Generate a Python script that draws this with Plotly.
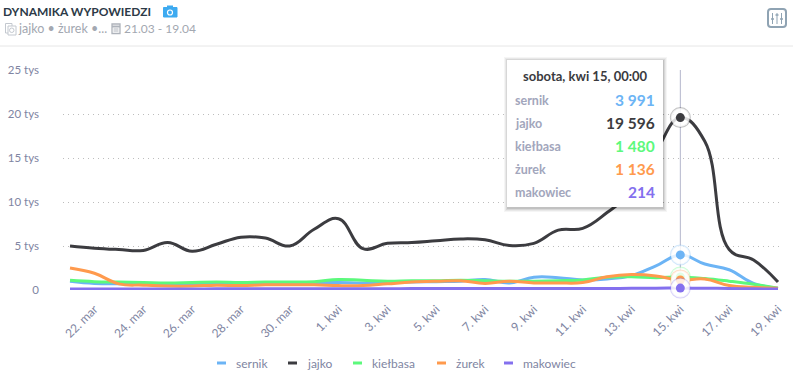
import plotly.graph_objects as go
import pandas as pd

dates = pd.date_range("2023-03-21", "2023-04-19", freq="D")
series_names = ["sernik", "jajko", "kiełbasa", "żurek", "makowiec"]
colors = ["#6cb4f5", "#3c3c40", "#5cf97c", "#ff9a4d", "#8470ee"]

sernik = [1000, 750, 700, 700, 700, 700, 700, 760, 800, 850, 850, 850, 800, 850, 900, 950, 1000, 1200, 800, 1450, 1400, 1150, 1250, 1650, 2750, 3991, 2950, 2300, 750, 200]
jajko = [5000, 4750, 4600, 4500, 5400, 4400, 5200, 6000, 5900, 5000, 6900, 8100, 4700, 5300, 5400, 5600, 5800, 5700, 5050, 5300, 6800, 7000, 8800, 11200, 15700, 19596, 16900, 4600, 3400, 900]
kielbasa = [1100, 950, 900, 850, 800, 850, 900, 850, 900, 900, 950, 1200, 1100, 1000, 1050, 1050, 1100, 1050, 1000, 1000, 1050, 1150, 1450, 1500, 1400, 1480, 1300, 1000, 650, 200]
zurek = [2500, 1900, 700, 550, 450, 450, 550, 500, 600, 600, 600, 500, 500, 700, 900, 1000, 1050, 750, 1000, 800, 800, 850, 1500, 1750, 1600, 1136, 1250, 500, 300, 200]
makowiec = [100, 100, 120, 120, 120, 120, 130, 130, 140, 140, 140, 150, 150, 150, 160, 160, 160, 160, 160, 160, 160, 170, 180, 190, 210, 214, 200, 170, 140, 100]
all_series = [sernik, jajko, kielbasa, zurek, makowiec]

tick_dates = pd.date_range("2023-03-22", "2023-04-19", freq="2D")
tick_labels = ["22. mar", "24. mar", "26. mar", "28. mar", "30. mar", "1. kwi", "3. kwi", "5. kwi", "7. kwi",
               "9. kwi", "11. kwi", "13. kwi", "15. kwi", "17. kwi", "19. kwi"]
y_ticks = [0, 5000, 10000, 15000, 20000, 25000]
y_labels = ["0", "5 tys", "10 tys", "15 tys", "20 tys", "25 tys"]
hover_index = 25
tooltip_title = "sobota, kwi 15, 00:00"

W, H = 793, 381
L, R, T, B = 63, 12, 70, 91
FONT = "Lato, sans-serif"
GREY = "#8085a2"


def px(x):
    return (x - L) / (W - L - R)


def py(y):
    return (H - B - y) / (H - T - B)


fig = go.Figure()
for name, vals, col in zip(series_names, all_series, colors):
    fig.add_trace(go.Scatter(x=dates, y=vals, name=name, mode="lines", showlegend=False,
                             line=dict(color=col, width=3, shape="spline", smoothing=1.2)))

# hover markers at the selected day
for vals, col in zip(all_series, colors):
    fig.add_trace(go.Scatter(x=[dates[hover_index]], y=[vals[hover_index]], mode="markers", showlegend=False,
                             marker=dict(size=19, color="rgba(255,255,255,0.9)", line=dict(color=col, width=2)),
                             opacity=0.3, cliponaxis=False))
    fig.add_trace(go.Scatter(x=[dates[hover_index]], y=[vals[hover_index]], mode="markers", showlegend=False,
                             marker=dict(size=19, color="rgba(255,255,255,0.75)", line=dict(width=0)), cliponaxis=False))
    fig.add_trace(go.Scatter(x=[dates[hover_index]], y=[vals[hover_index]], mode="markers", showlegend=False,
                             marker=dict(size=9, color=col), cliponaxis=False))

shapes = [
    dict(type="line", xref="x", yref="paper", x0=dates[hover_index], x1=dates[hover_index], y0=0, y1=1,
         line=dict(color="#b4b6cc", width=1), layer="below"),
    dict(type="line", xref="paper", yref="paper", x0=px(0), x1=px(W), y0=py(46), y1=py(46),
         line=dict(color="#e6e6e6", width=1)),
]
# tooltip box with a soft shadow
for grow, alpha in [(4, 0.04), (3, 0.05), (2, 0.07), (1, 0.1)]:
    shapes.append(dict(type="rect", xref="paper", yref="paper", x0=px(507 - grow + 1), x1=px(663 + grow),
                       y0=py(207 + grow + 1), y1=py(60 - grow + 1), layer="above", line=dict(width=0),
                       fillcolor=f"rgba(0,0,0,{alpha})"))
shapes.append(dict(type="rect", xref="paper", yref="paper", x0=px(507), x1=px(663), y0=py(207), y1=py(60),
                   layer="above", line=dict(width=0), fillcolor="white"))


def box(x0, y0, x1, y1, color, fill="rgba(0,0,0,0)", w=1):
    shapes.append(dict(type="rect", xref="paper", yref="paper", x0=px(x0), x1=px(x1), y0=py(y1), y1=py(y0),
                       line=dict(color=color, width=w), fillcolor=fill, layer="above"))


def seg(x0, y0, x1, y1, color, w=1):
    shapes.append(dict(type="line", xref="paper", yref="paper", x0=px(x0), x1=px(x1), y0=py(y0), y1=py(y1),
                       line=dict(color=color, width=w), layer="above"))


# camera icon
box(163.5, 7.5, 177, 17, "#3daaf0", "#3daaf0")
box(167, 5.5, 173, 8, "#3daaf0", "#3daaf0", 0)
shapes.append(dict(type="circle", xref="paper", yref="paper", x0=px(167.5), x1=px(172.5), y0=py(15), y1=py(10),
                   fillcolor="#3daaf0", line=dict(color="white", width=1.2), layer="above"))
# query icon
box(5.5, 23.5, 12, 33, "#c3c8cf")
box(8, 26, 16, 35, "#c3c8cf", "white")
shapes.append(dict(type="circle", xref="paper", yref="paper", x0=px(9.5), x1=px(14), y0=py(32.5), y1=py(28),
                   line=dict(color="#c3c8cf", width=1), layer="above"))
# calendar icon
box(112, 24, 120, 33.5, "#aeb3bb", "white", 1.3)
seg(112, 26.5, 120, 26.5, "#aeb3bb", 2)
seg(113.5, 29, 118.5, 29, "#aeb3bb")
seg(113.5, 31, 118.5, 31, "#aeb3bb")
# settings icon
shapes.append(dict(type="path", xref="paper", yref="paper", layer="above", line=dict(color="#8fa3b3", width=2),
                   fillcolor="rgba(0,0,0,0)",
                   path=f"M {px(771)} {py(9)} L {px(783)} {py(9)} Q {px(786)} {py(9)} {px(786)} {py(12)} "
                        f"L {px(786)} {py(24)} Q {px(786)} {py(27)} {px(783)} {py(27)} L {px(771)} {py(27)} "
                        f"Q {px(768)} {py(27)} {px(768)} {py(24)} L {px(768)} {py(12)} Q {px(768)} {py(9)} {px(771)} {py(9)} Z"))
for sx, knob in [(772.5, 19), (777, 15), (781.5, 19)]:
    seg(sx, 13, sx, 24, "#8fa3b3", 1)
    seg(sx - 1.5, knob, sx + 1.5, knob, "#8fa3b3", 1.5)

annotations = []


def text(x, y, s, color, size, anchor="left", weight=None):
    font = dict(family=FONT, color=color, size=size)
    if weight:
        font["weight"] = weight
    annotations.append(dict(x=px(x), y=py(y), xref="paper", yref="paper", text=s, showarrow=False,
                            xanchor=anchor, yanchor="middle", font=font, xshift=0, borderpad=0, borderwidth=0))


text(3, 11, "DYNAMIKA WYPOWIEDZI", "#2c3a47", 12, weight=700)
text(18, 28, "jajko • żurek •...", "#a3a8b1", 12.5)
text(124, 28, "21.03 - 19.04", "#a3a8b1", 12)
text(585, 76, tooltip_title, "#3a3a3e", 13, "center", 700)
for i, (name, vals, col) in enumerate(zip(series_names, all_series, colors)):
    row_y = 100 + i * 23
    text(515, row_y, name, "#a2a6bc", 12.5, weight=700)
    value = f"{vals[hover_index]:,}".replace(",", " ")
    text(655, row_y, value, col, 15.5, "right", 700)

# legend
legend_x = [217, 288, 353, 437, 504]
for lx, name, col in zip(legend_x, series_names, colors):
    seg(lx, 363, lx + 9, 363, col, 3)
    text(lx + 19, 363, name, GREY, 12)

fig.update_layout(
    width=W, height=H, margin=dict(l=L, r=R, t=T, b=B, pad=0, autoexpand=False),
    paper_bgcolor="white", plot_bgcolor="white", showlegend=False,
    font=dict(family=FONT, size=12, color=GREY),
    xaxis=dict(range=["2023-03-20 17:07", "2023-04-19 02:57"], tickmode="array", tickvals=list(tick_dates),
               ticktext=tick_labels, tickangle=-45, showgrid=False, zeroline=False, showline=False, ticks="",
               ticklabelstandoff=9, tickfont=dict(family=FONT, size=12, color=GREY)),
    yaxis=dict(range=[0, 25000], tickmode="array", tickvals=y_ticks, ticktext=y_labels, showgrid=True,
               gridcolor="#bdbdbd", griddash="1px,4px", gridwidth=1, zeroline=False, showline=False, ticks="",
               ticklabelstandoff=23, tickfont=dict(family=FONT, size=11.5, color=GREY)),
    shapes=shapes, annotations=annotations,
)
fig.write_html("out.html", config=dict(displayModeBar=False),
               post_script="document.body.style.margin='0';document.documentElement.style.overflow='hidden';")
